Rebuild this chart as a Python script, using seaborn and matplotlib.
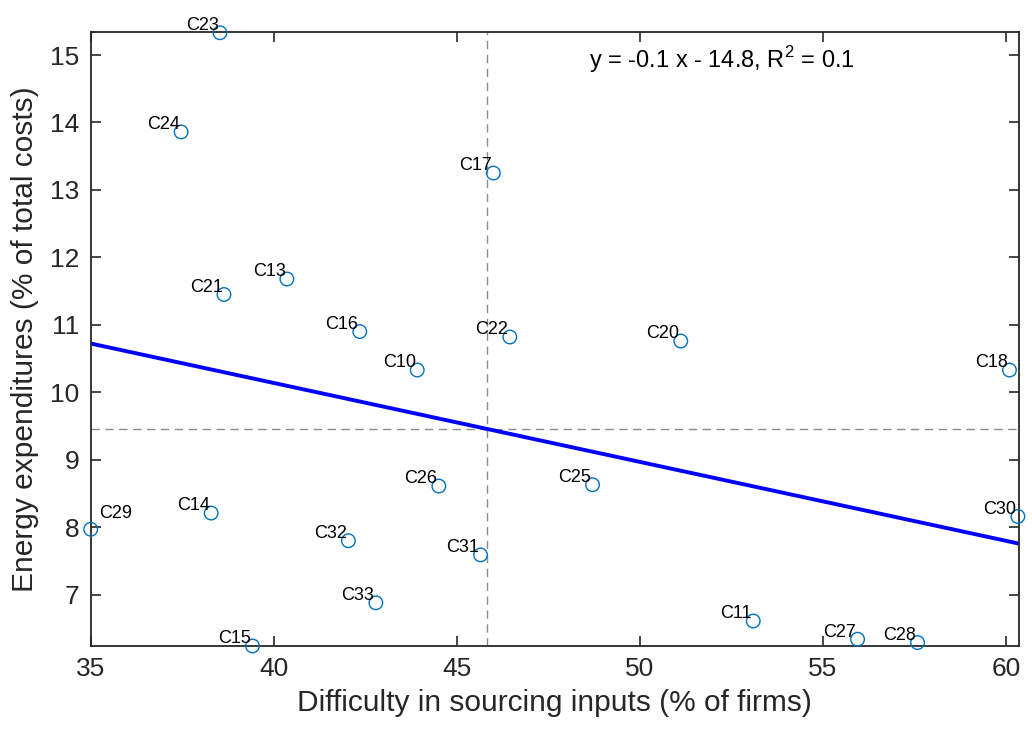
import numpy as np
import pandas as pd
import matplotlib
matplotlib.use("Agg")
import matplotlib.pyplot as plt
import seaborn as sns

# Данные: код страны, трудности с поставками (% фирм), энергозатраты (% затрат)
labels = ["C23", "C24", "C17", "C13", "C21", "C16", "C22", "C10", "C20", "C18", "C26",
          "C25", "C14", "C29", "C32", "C31", "C30", "C33", "C15", "C11", "C27", "C28"]
difficulty = [38.53, 37.47, 46.00, 40.36, 38.64, 42.35, 46.45, 43.92, 51.12, 60.10, 44.51,
              48.71, 38.29, 35.00, 42.04, 45.65, 60.33, 42.79, 39.42, 53.10, 55.95, 57.59]
energy = [15.33, 13.86, 13.25, 11.68, 11.45, 10.90, 10.82, 10.33, 10.76, 10.33, 8.61,
          8.63, 8.21, 7.97, 7.80, 7.59, 8.16, 6.88, 6.24, 6.61, 6.34, 6.29]
x_ticks = [35, 40, 45, 50, 55, 60]
y_ticks = [7, 8, 9, 10, 11, 12, 13, 14, 15]
eq_text = "y = -0.1 x - 14.8, R$^{2}$ = 0.1"

df = pd.DataFrame({"label": labels, "x": difficulty, "y": energy})

sns.set_style("ticks")
plt.rcParams["font.family"] = ["Liberation Sans", "DejaVu Sans"]
plt.rcParams["mathtext.fontset"] = "custom"
plt.rcParams["mathtext.rm"] = "Liberation Sans"

axis_col = (0.15, 0.15, 0.15)
fig = plt.figure(figsize=(10.32, 7.29), dpi=100)
ax = fig.add_axes([0.0879, 0.1139, 0.8995, 0.8421])

xlim = (35, 60.36)
ylim = (6.24, 15.34)
ax.set_xlim(xlim)
ax.set_ylim(ylim)

# линии средних
ax.axvline(df["x"].mean(), color="#8c8c8c", lw=1, ls=(0, (6, 4)), zorder=1)
ax.axhline(df["y"].mean(), color="#8c8c8c", lw=1, ls=(0, (6, 4)), zorder=1)

# линия регрессии
sns.regplot(data=df, x="x", y="y", scatter=False, ci=None, truncate=False,
            line_kws={"color": "blue", "lw": 2.8, "zorder": 2}, ax=ax)

sns.scatterplot(data=df, x="x", y="y", ax=ax, s=95, marker="o",
                facecolor="none", edgecolor="#0072BD", linewidth=1.0,
                zorder=3, clip_on=False)

for _, r in df.iterrows():
    if r["label"] == "C29":
        ax.annotate(r["label"], (r["x"], r["y"]), xytext=(6, 5), textcoords="offset points",
                    ha="left", va="bottom", fontsize=13, color="black")
    else:
        ax.annotate(r["label"], (r["x"], r["y"]), xytext=(-1, -1), textcoords="offset points",
                    ha="right", va="bottom", fontsize=13, color="black")

ax.text(48.6, 14.81, eq_text, fontsize=17, color="black", ha="left", va="baseline")

ax.set_xlim(xlim)
ax.set_ylim(ylim)
ax.set_xticks(x_ticks)
ax.set_yticks(y_ticks)
ax.tick_params(direction="in", top=True, right=True, length=7, width=1.2,
               labelsize=19, colors=axis_col, pad=8)
for sp in ax.spines.values():
    sp.set_visible(True)
    sp.set_linewidth(1.3)
    sp.set_color(axis_col)

ax.set_xlabel("Difficulty in sourcing inputs (% of firms)", fontsize=21.5, color=axis_col, labelpad=6)
ax.set_ylabel("Energy expenditures (% of total costs)", fontsize=21.5, color=axis_col, labelpad=8)

fig.savefig("out.png", dpi=100)
